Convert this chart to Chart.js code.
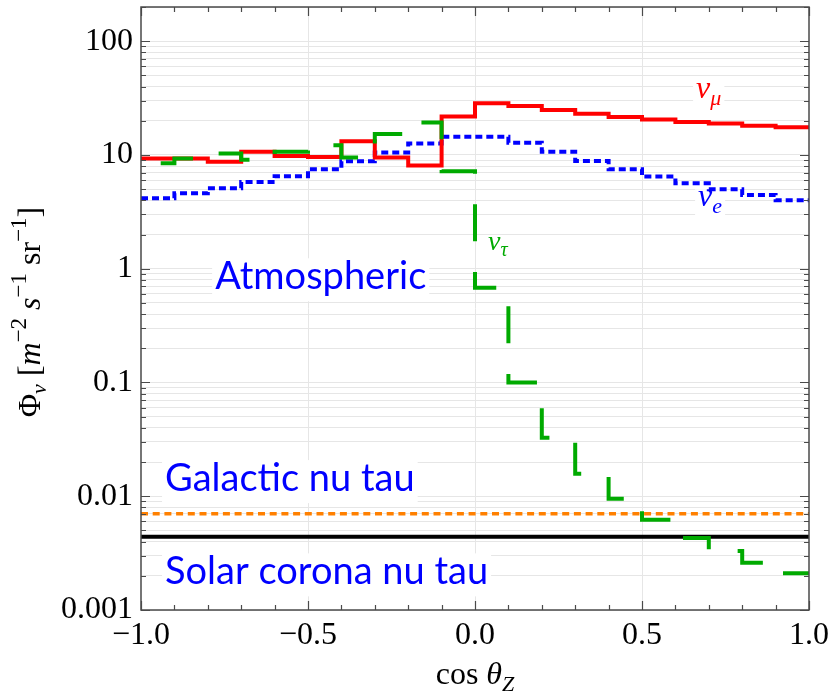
<!DOCTYPE html>
<html>
<head>
<meta charset="utf-8">
<script src="https://cdn.jsdelivr.net/npm/chart.js@4.4.1/dist/chart.umd.min.js"></script>
<style>
  html, body { margin: 0; padding: 0; background: #fff; }
  #wrap { width: 834px; height: 692px; }
</style>
</head>
<body>
<div id="wrap"><canvas id="fluxChart" width="834" height="692"></canvas></div>
<script>
// lower edges of the cos(theta_Z) bins, width 0.1
const cosBins = [-1.0, -0.9, -0.8, -0.7, -0.6, -0.5, -0.4, -0.3, -0.2, -0.1,
                 0.0, 0.1, 0.2, 0.3, 0.4, 0.5, 0.6, 0.7, 0.8, 0.9];
const binTop = 1.0;

// atmospheric fluxes per bin [m^-2 s^-1 sr^-1]
const numuFlux = [9.3, 9.3, 8.7, 10.7, 9.8, 9.6, 13.2, 9.5, 8.1, 21.8,
                  28.5, 27.0, 24.9, 23.1, 21.6, 20.5, 19.5, 18.9, 18.1, 17.5];
const nueFlux = [4.16, 4.6, 5.1, 5.8, 6.5, 7.5, 8.8, 10.5, 12.6, 14.5,
                 14.5, 12.8, 10.7, 8.85, 7.5, 6.46, 5.64, 4.99, 4.45, 4.0];
const nutauFlux = [8.45, 9.3, 10.3, 9.1, 10.7, 12.2, 9.5, 15.3, 19.3, 7.2,
                   0.68, 0.1, 0.0327, 0.0158, 0.0095, 0.0062, 0.0043, 0.0033, 0.0026, 0.0021];

// flat astrophysical backgrounds
const galacticFlux = 0.007;
const coronaFlux = 0.0044;

const yTickLabels = ['0.001', '0.01', '0.1', '1', '10', '100'];
const xTickLabels = ['\u22121.0', '\u22120.5', '0.0', '0.5', '1.0'];

const SERIF = '"Liberation Serif", "DejaVu Serif", serif';
const SANS = 'Lato, "Open Sans", sans-serif';
const FRAME = '#4a4a4a';

function histPoints(values) {
    const pts = cosBins.map((x, i) => ({ x: x, y: values[i] }));
    pts.push({ x: binTop, y: values[values.length - 1] });
    return pts;
}

function flatPoints(v) {
    return [{ x: cosBins[0], y: v }, { x: binTop, y: v }];
}

function logTickValues(min, max) {
    const out = [];
    for (let e = -3; e <= 2; e++) {
        for (let k = 1; k <= 9; k++) {
            const v = Number((k * Math.pow(10, e)).toPrecision(6));
            if (v >= min - 1e-12 && v <= max + 1e-9) out.push(v);
        }
    }
    return out;
}

function isDecade(v) {
    const l = Math.log10(v);
    return Math.abs(l - Math.round(l)) < 1e-9;
}

// draw a run of text pieces with their own fonts and vertical shifts
function drawParts(ctx, parts, x, y) {
    let cx = x;
    parts.forEach(p => {
        ctx.font = p.font;
        ctx.fillText(p.t, cx, y + (p.dy || 0));
        cx += ctx.measureText(p.t).width;
    });
    return cx - x;
}

function partsWidth(ctx, parts) {
    let w = 0;
    parts.forEach(p => { ctx.font = p.font; w += ctx.measureText(p.t).width; });
    return w;
}

// text labels inside the plot, anchored (left, baseline) in data coordinates
const plotLabels = [
    { x: -0.778, y: 0.66, color: '#0000ff', parts: [{ t: 'Atmospheric', font: `38px ${SANS}` }] },
    { x: -0.928, y: 0.0111, color: '#0000ff', parts: [{ t: 'Galactic nu tau', font: `38px ${SANS}` }] },
    { x: -0.928, y: 0.00168, color: '#0000ff', parts: [{ t: 'Solar corona nu tau', font: `38px ${SANS}` }] },
    { x: 0.662, y: 32, color: '#ff0000', parts: [
        { t: '\u03bd', font: `italic 32px ${SERIF}` },
        { t: '\u03bc', font: `italic 22px ${SERIF}`, dy: 7 }] },
    { x: 0.668, y: 3.54, color: '#0000ff', parts: [
        { t: '\u03bd', font: `italic 32px ${SERIF}` },
        { t: 'e', font: `italic 22px ${SERIF}`, dy: 7 }] },
    { x: 0.039, y: 1.45, color: '#00aa00', parts: [
        { t: '\u03bd', font: `italic 28px ${SERIF}` },
        { t: '\u03c4', font: `italic 20px ${SERIF}`, dy: 6 }] }
];

const plotDecor = {
    id: 'plotDecor',
    beforeDatasetsDraw(chart) {
        const ctx = chart.ctx;
        const xs = chart.scales.x, ys = chart.scales.y;
        ctx.save();
        ctx.textBaseline = 'alphabetic';
        plotLabels.forEach(lab => {
            const px = xs.getPixelForValue(lab.x);
            const py = ys.getPixelForValue(lab.y);
            const w = partsWidth(ctx, lab.parts);
            ctx.font = lab.parts[0].font;
            const m = ctx.measureText(lab.parts[0].t);
            const asc = m.actualBoundingBoxAscent, desc = Math.max(m.actualBoundingBoxDescent, 8);
            ctx.fillStyle = '#fff';
            ctx.fillRect(px - 3, py - asc - 2, w + 6, asc + desc + 6);
            ctx.fillStyle = lab.color;
            drawParts(ctx, lab.parts, px, py);
        });
        ctx.restore();
    },
    afterDatasetsDraw(chart) {
        const ctx = chart.ctx;
        const a = chart.chartArea;
        const xs = chart.scales.x, ys = chart.scales.y;
        ctx.save();
        ctx.strokeStyle = FRAME;
        ctx.lineWidth = 1.5;
        ctx.strokeRect(a.left, a.top, a.right - a.left, a.bottom - a.top);

        ctx.lineWidth = 1.2;
        ctx.beginPath();
        // inward ticks on all four sides
        for (let i = 0; i <= 20; i++) {
            const v = -1 + i * 0.1;
            const px = Math.round(xs.getPixelForValue(v)) + 0.5;
            const len = (i % 5 === 0) ? 9 : 5;
            ctx.moveTo(px, a.bottom); ctx.lineTo(px, a.bottom - len);
            ctx.moveTo(px, a.top); ctx.lineTo(px, a.top + len);
        }
        logTickValues(0.001, 200).forEach(v => {
            const py = Math.round(ys.getPixelForValue(v)) + 0.5;
            const len = isDecade(v) ? 9 : 5;
            ctx.moveTo(a.left, py); ctx.lineTo(a.left + len, py);
            ctx.moveTo(a.right, py); ctx.lineTo(a.right - len, py);
        });
        ctx.stroke();
        ctx.restore();
    },
    afterDraw(chart) {
        const ctx = chart.ctx;
        ctx.save();
        ctx.fillStyle = '#000';
        ctx.textBaseline = 'alphabetic';

        // x axis title: cos theta_Z
        const xt = [
            { t: 'cos ', font: `32px ${SERIF}` },
            { t: '\u03b8', font: `italic 32px ${SERIF}` },
            { t: 'Z', font: `italic 22px ${SERIF}`, dy: 7 }
        ];
        const a = chart.chartArea;
        const cx = (a.left + a.right) / 2;
        drawParts(ctx, xt, cx - partsWidth(ctx, xt) / 2, 684);

        // y axis title: Phi_nu [m^-2 s^-1 sr^-1]
        const yt = [
            { t: '\u03a6', font: `32px ${SERIF}` },
            { t: '\u03bd', font: `italic 22px ${SERIF}`, dy: 6 },
            { t: ' [', font: `32px ${SERIF}` },
            { t: 'm', font: `italic 32px ${SERIF}` },
            { t: '\u22122', font: `23px ${SERIF}`, dy: -14 },
            { t: ' s', font: `italic 32px ${SERIF}` },
            { t: '\u22121', font: `23px ${SERIF}`, dy: -14 },
            { t: ' sr', font: `32px ${SERIF}` },
            { t: '\u22121', font: `23px ${SERIF}`, dy: -14 },
            { t: ']', font: `32px ${SERIF}` }
        ];
        ctx.translate(40, 312);
        ctx.rotate(-Math.PI / 2);
        drawParts(ctx, yt, -partsWidth(ctx, yt) / 2, 0);
        ctx.restore();
    }
};

const ctx = document.getElementById('fluxChart').getContext('2d');

new Chart(ctx, {
    type: 'line',
    data: {
        datasets: [
            {
                label: 'nu_tau',
                data: histPoints(nutauFlux),
                stepped: 'before',
                borderColor: '#00aa00',
                borderWidth: 4,
                borderDash: [37, 30.7],
                borderDashOffset: 48,
                pointRadius: 0,
                fill: false
            },
            {
                label: 'nu_mu',
                data: histPoints(numuFlux),
                stepped: 'before',
                borderColor: '#ff0000',
                borderWidth: 4,
                pointRadius: 0,
                fill: false
            },
            {
                label: 'nu_e',
                data: histPoints(nueFlux),
                stepped: 'before',
                borderColor: '#0000ff',
                borderWidth: 4,
                borderDash: [7, 4],
                pointRadius: 0,
                fill: false
            },
            {
                label: 'Solar corona',
                data: flatPoints(coronaFlux),
                borderColor: '#000000',
                borderWidth: 4,
                pointRadius: 0,
                fill: false
            },
            {
                label: 'Galactic',
                data: flatPoints(galacticFlux),
                borderColor: '#ff8000',
                borderWidth: 3.5,
                borderDash: [7, 4.7],
                pointRadius: 0,
                fill: false
            }
        ]
    },
    options: {
        responsive: false,
        animation: false,
        events: [],
        layout: { padding: { top: 7, right: 25, left: 0, bottom: 0 } },
        plugins: {
            legend: { display: false },
            tooltip: { enabled: false }
        },
        scales: {
            x: {
                type: 'linear',
                min: -1,
                max: 1,
                afterFit: s => {
                    s.height = 82;
                    s.paddingLeft = 0;
                    s.paddingRight = 0;
                },
                afterBuildTicks: s => {
                    s.ticks = [-1, -0.5, 0, 0.5, 1].map(v => ({ value: v }));
                },
                ticks: {
                    autoSkip: false,
                    maxRotation: 0,
                    padding: 6,
                    color: '#000',
                    font: { family: SERIF, size: 32 },
                    callback: (v, i) => xTickLabels[i]
                },
                grid: {
                    drawTicks: false,
                    color: c => (c.tick && Math.abs(c.tick.value) === 1) ? 'rgba(0,0,0,0)' : '#e6e6e6',
                    lineWidth: 1
                },
                border: { display: false }
            },
            y: {
                type: 'logarithmic',
                min: 0.001,
                max: 200,
                afterFit: s => {
                    s.width = 141;
                    s.paddingTop = 0;
                    s.paddingBottom = 0;
                },
                afterBuildTicks: s => {
                    s.ticks = logTickValues(0.001, 200).map(v => ({ value: v }));
                },
                ticks: {
                    autoSkip: false,
                    padding: 8,
                    color: '#000',
                    font: { family: SERIF, size: 32 },
                    callback: v => {
                        if (!isDecade(v)) return '';
                        return yTickLabels[Math.round(Math.log10(v)) + 3];
                    }
                },
                grid: {
                    drawTicks: false,
                    color: '#e6e6e6',
                    lineWidth: 1
                },
                border: { display: false }
            }
        }
    },
    plugins: [plotDecor]
});
</script>
</body>
</html>
